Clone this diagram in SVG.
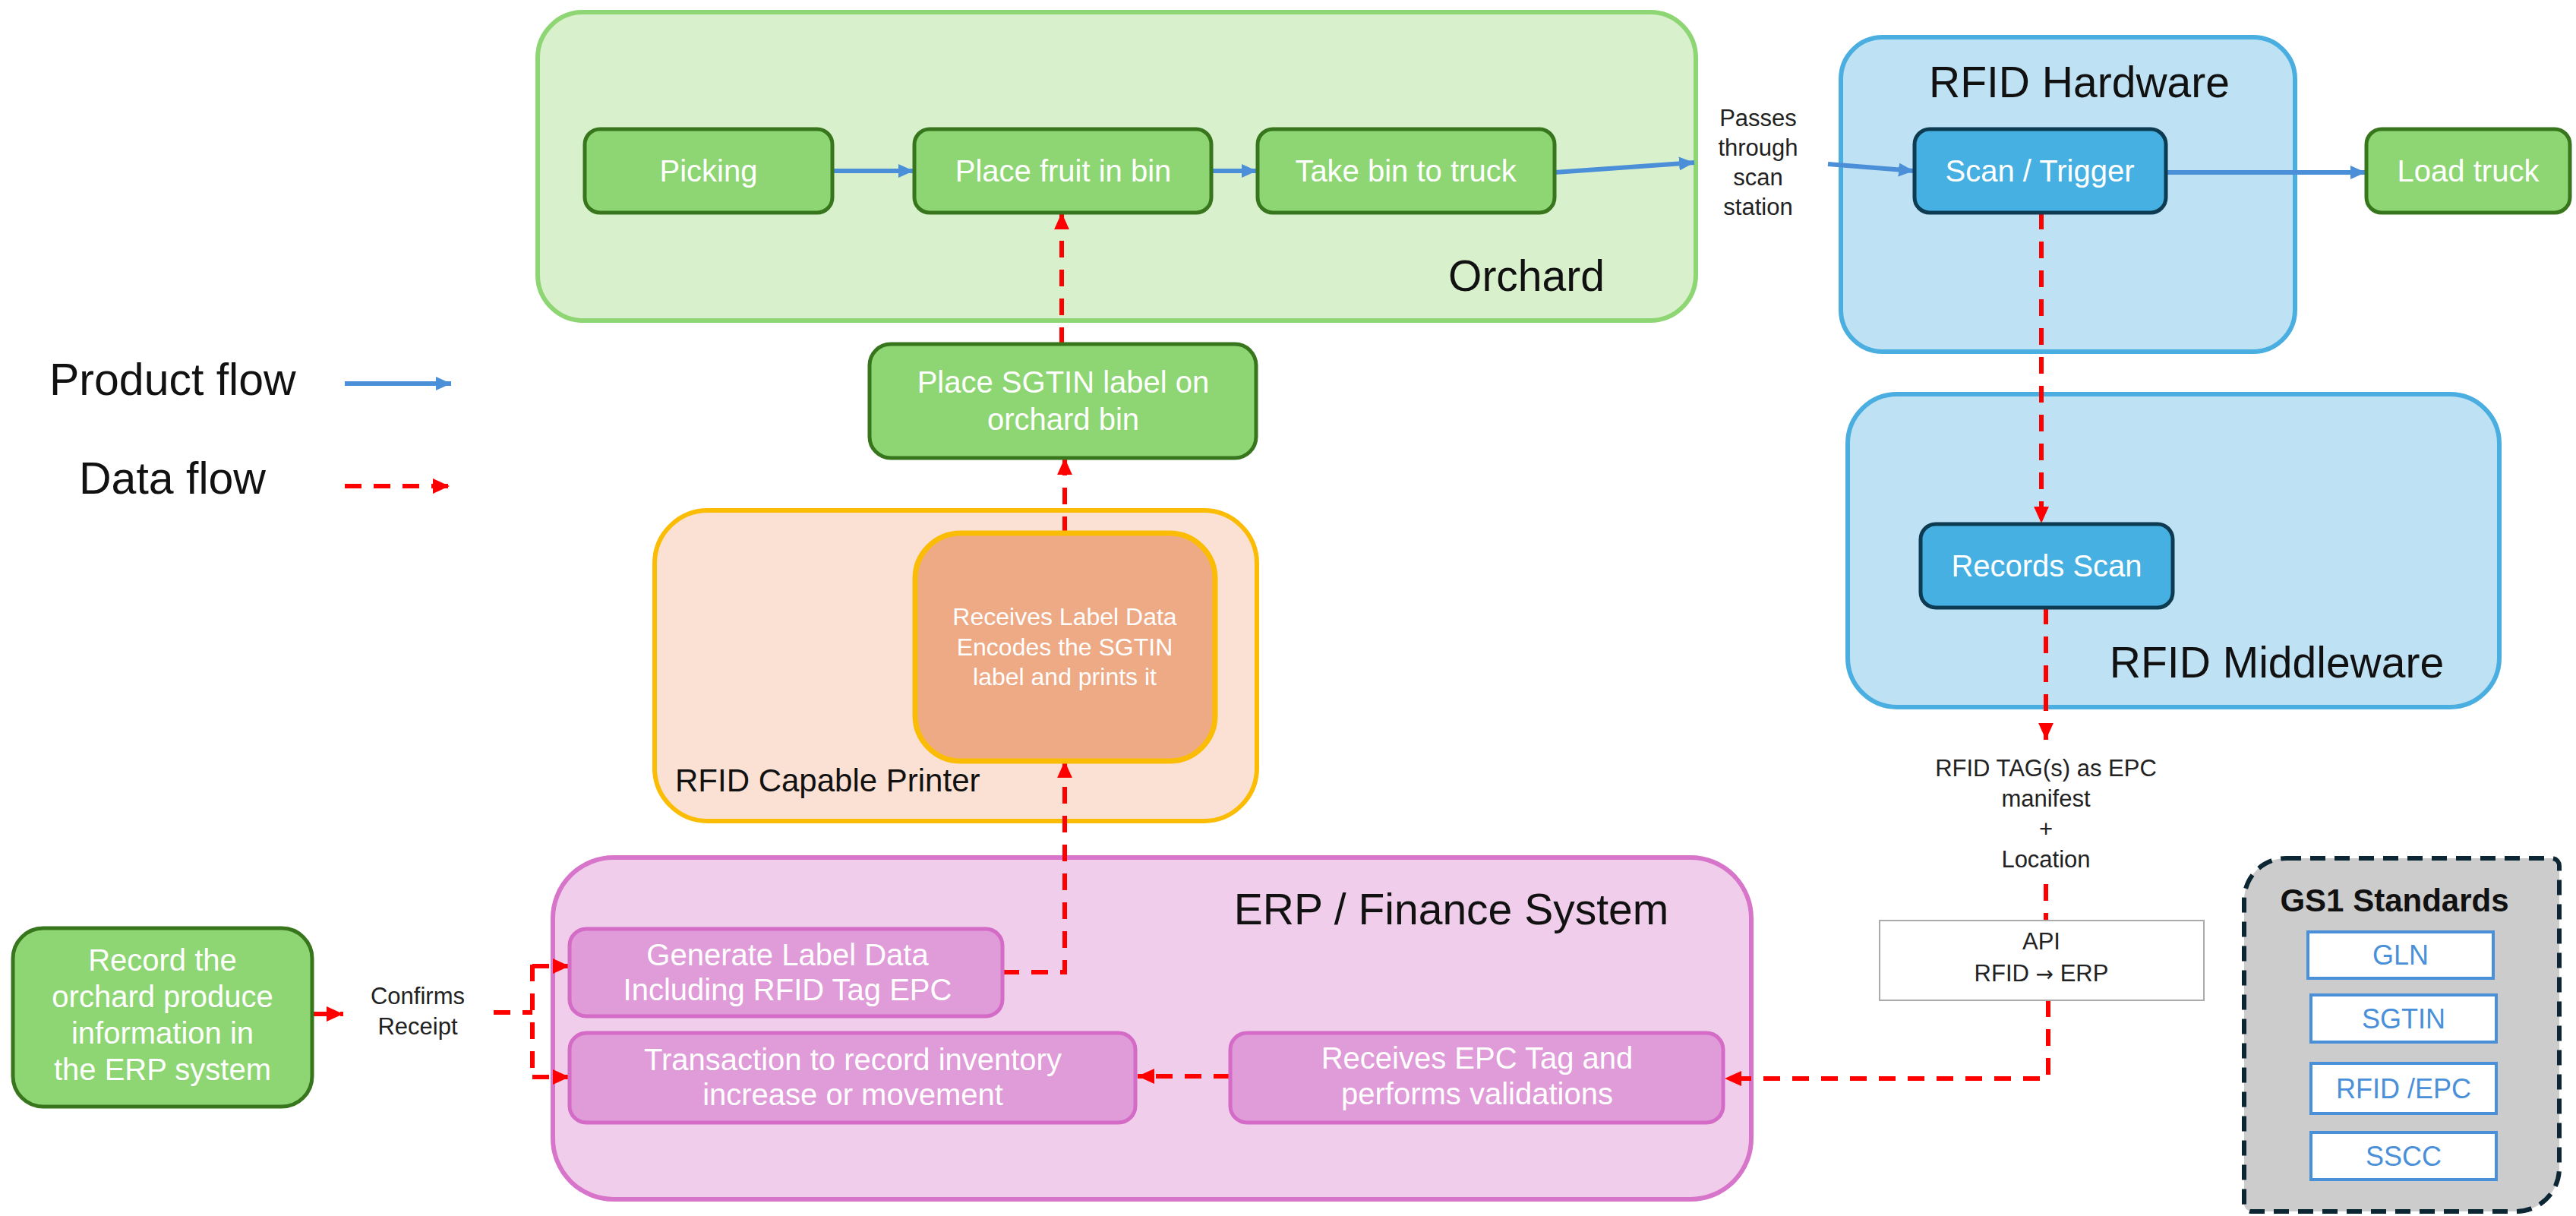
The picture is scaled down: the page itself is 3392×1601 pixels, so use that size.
<svg xmlns="http://www.w3.org/2000/svg" width="3392" height="1601" viewBox="0 0 3392 1601">
<defs>
<style>
text{font-family:"Liberation Sans",Arial,sans-serif;}
.title{font-size:57px;fill:#111;text-anchor:middle;}
.legend{font-size:59px;fill:#111;}
.nt{font-size:40px;fill:#fff;text-anchor:middle;}
.pt{font-size:32px;fill:#fff;text-anchor:middle;}
.sm{font-size:31px;fill:#222;text-anchor:middle;}
.gs{font-size:36px;fill:#4a90d9;text-anchor:middle;}
.gnode{fill:#8ed673;stroke:#38761d;stroke-width:5;}
.bnode{fill:#46b0e2;stroke:#0c3b52;stroke-width:5;}
.enode{fill:#e09bd9;stroke:#d46bc6;stroke-width:5;}
.pflow{fill:none;stroke:#4a8fd8;stroke-width:6;marker-end:url(#ab);}
.dflow{fill:none;stroke:#ff0000;stroke-width:6;stroke-dasharray:22 16;}
.dfa{marker-end:url(#ar);}
.gsbox{fill:#fff;stroke:#4a90d9;stroke-width:4;}
</style>
<marker id="ab" viewBox="0 0 20 20" refX="20" refY="10" markerWidth="20" markerHeight="20" markerUnits="userSpaceOnUse" orient="auto"><path d="M0,1 L20,10 L0,19 Z" fill="#4a8fd8"/></marker>
<marker id="ar" viewBox="0 0 20 20" refX="20" refY="10" markerWidth="22" markerHeight="22" markerUnits="userSpaceOnUse" orient="auto"><path d="M0,1 L20,10 L0,19 Z" fill="#ff0000"/></marker>
</defs>
<rect width="3392" height="1601" fill="#fff"/>

<g id="orchard">
<rect x="708" y="16" width="1525" height="406" rx="60" fill="#d9f0cc" stroke="#8ed673" stroke-width="6"/>
<text class="title" x="2010" y="383">Orchard</text>
</g>
<g id="rfid-hardware">
<rect x="2424" y="49" width="598" height="414" rx="55" fill="#bfe1f4" stroke="#4aaee0" stroke-width="6"/>
<text class="title" x="2738" y="128">RFID Hardware</text>
</g>
<g id="rfid-middleware">
<rect x="2433" y="519" width="858" height="412" rx="65" fill="#bfe1f4" stroke="#4aaee0" stroke-width="6"/>
<text class="title" x="2998" y="892">RFID Middleware</text>
</g>
<g id="printer">
<rect x="862" y="672" width="793" height="409" rx="70" fill="#fbe1d3" stroke="#fbbc05" stroke-width="6"/>
<text x="889" y="1042" font-size="42" fill="#111">RFID Capable Printer</text>
</g>
<g id="erp">
<rect x="728" y="1129" width="1578" height="450" rx="80" fill="#f0cdea" stroke="#d675c9" stroke-width="6"/>
<text class="title" x="1911" y="1217">ERP / Finance System</text>
</g>
<g id="gs1">
<path d="M3010 1130 H3360 A10 10 0 0 1 3370 1140 V1538 A57 57 0 0 1 3313 1595 H2965 A10 10 0 0 1 2955 1585 V1185 A55 55 0 0 1 3010 1130 Z" fill="#cccccc" stroke="#0c2633" stroke-width="6" stroke-dasharray="20 12"/>
<text x="3153" y="1200" font-size="42" font-weight="bold" fill="#111" text-anchor="middle">GS1 Standards</text>
</g>

<g id="legend">
<text class="legend" x="65" y="520">Product flow</text>
<text class="legend" x="104" y="650">Data flow</text>
<path class="pflow" d="M454 505 H594"/>
<path class="dflow dfa" d="M454 640 H592"/>
</g>

<g id="connectors">
<path class="pflow" d="M1096 225 H1203"/>
<path class="pflow" d="M1595 225 H1655"/>
<path class="pflow" d="M2047 227 L2231 214"/>
<path class="pflow" d="M2407 216 L2520 225"/>
<path class="pflow" d="M2852 227 H3115"/>
<path class="dflow dfa" d="M2688 280 V689"/>
<path class="dflow dfa" d="M2694 800 V974"/>
<path class="dflow" d="M2694 1164 V1212"/>
<path class="dflow dfa" d="M2697 1317 V1420 H2271"/>
<path class="dflow dfa" d="M1620 1417 H1498"/>
<path class="dflow dfa" d="M410 1335 H452"/>
<path class="dflow" d="M650 1333 H701"/>
<path class="dflow" d="M701 1270 V1422"/>
<path class="dflow dfa" d="M701 1272 H750"/>
<path class="dflow dfa" d="M701 1418 H750"/>
<path class="dflow dfa" d="M1320 1280 H1402 V1002"/>
<path class="dflow dfa" d="M1402 702 V603"/>
<path class="dflow dfa" d="M1398 453 V280"/>
</g>

<g id="picking">
<rect class="gnode" x="770" y="170" width="326" height="110" rx="20"/>
<text class="nt" x="933" y="239">Picking</text>
</g>
<g id="place-fruit">
<rect class="gnode" x="1204" y="170" width="391" height="110" rx="20"/>
<text class="nt" x="1400" y="239">Place fruit in bin</text>
</g>
<g id="take-bin">
<rect class="gnode" x="1656" y="170" width="391" height="110" rx="20"/>
<text class="nt" x="1851" y="239">Take bin to truck</text>
</g>
<g id="passes-label">
<text class="sm" x="2315" y="166">Passes</text>
<text class="sm" x="2315" y="205">through</text>
<text class="sm" x="2315" y="244">scan</text>
<text class="sm" x="2315" y="283">station</text>
</g>
<g id="scan-trigger">
<rect class="bnode" x="2521" y="170" width="331" height="110" rx="20"/>
<text class="nt" x="2686" y="239">Scan / Trigger</text>
</g>
<g id="load-truck">
<rect class="gnode" x="3116" y="170" width="268" height="110" rx="20"/>
<text class="nt" x="3250" y="239">Load truck</text>
</g>
<g id="place-sgtin">
<rect class="gnode" x="1145" y="453" width="509" height="150" rx="28"/>
<text class="nt" x="1400" y="517">Place SGTIN label on</text>
<text class="nt" x="1400" y="566">orchard bin</text>
</g>
<g id="printer-node">
<rect x="1205" y="702" width="395" height="300" rx="60" fill="#eea985" stroke="#fbbc05" stroke-width="7"/>
<text class="pt" x="1402" y="823">Receives Label Data</text>
<text class="pt" x="1402" y="863">Encodes the SGTIN</text>
<text class="pt" x="1402" y="902">label and prints it</text>
</g>
<g id="records-scan">
<rect class="bnode" x="2529" y="690" width="332" height="110" rx="20"/>
<text class="nt" x="2695" y="759">Records Scan</text>
</g>
<g id="epc-label">
<text class="sm" x="2694" y="1022">RFID TAG(s) as EPC</text>
<text class="sm" x="2694" y="1062">manifest</text>
<text class="sm" x="2694" y="1102">+</text>
<text class="sm" x="2694" y="1142">Location</text>
</g>
<g id="api">
<rect x="2475" y="1212" width="427" height="105" fill="#fff" stroke="#aaaaaa" stroke-width="2"/>
<text class="sm" x="2688" y="1250">API</text>
<text class="sm" x="2688" y="1292">RFID <tspan font-family="DejaVu Sans, sans-serif" font-size="28">→</tspan> ERP</text>
</g>
<g id="record-orchard">
<rect class="gnode" x="17" y="1222" width="394" height="235" rx="40"/>
<text class="nt" x="214" y="1278">Record the</text>
<text class="nt" x="214" y="1326">orchard produce</text>
<text class="nt" x="214" y="1374">information in</text>
<text class="nt" x="214" y="1422">the ERP system</text>
</g>
<g id="confirms-label">
<text class="sm" x="550" y="1322">Confirms</text>
<text class="sm" x="550" y="1362">Receipt</text>
</g>
<g id="generate">
<rect class="enode" x="750" y="1223" width="570" height="115" rx="22"/>
<text class="nt" x="1037" y="1271">Generate Label Data</text>
<text class="nt" x="1037" y="1317">Including RFID Tag EPC</text>
</g>
<g id="transaction">
<rect class="enode" x="750" y="1360" width="745" height="118" rx="22"/>
<text class="nt" x="1123" y="1409">Transaction to record inventory</text>
<text class="nt" x="1123" y="1455">increase or movement</text>
</g>
<g id="receives-epc">
<rect class="enode" x="1620" y="1360" width="649" height="118" rx="22"/>
<text class="nt" x="1945" y="1407">Receives EPC Tag and</text>
<text class="nt" x="1945" y="1454">performs validations</text>
</g>
<g id="gs1-gln">
<rect class="gsbox" x="3039" y="1227" width="244" height="61"/>
<text class="gs" x="3161" y="1270">GLN</text>
</g>
<g id="gs1-sgtin">
<rect class="gsbox" x="3043" y="1310" width="244" height="62"/>
<text class="gs" x="3165" y="1354">SGTIN</text>
</g>
<g id="gs1-rfid">
<rect class="gsbox" x="3043" y="1400" width="244" height="66"/>
<text class="gs" x="3165" y="1446">RFID /EPC</text>
</g>
<g id="gs1-sscc">
<rect class="gsbox" x="3043" y="1491" width="244" height="62"/>
<text class="gs" x="3165" y="1535">SSCC</text>
</g>
</svg>
